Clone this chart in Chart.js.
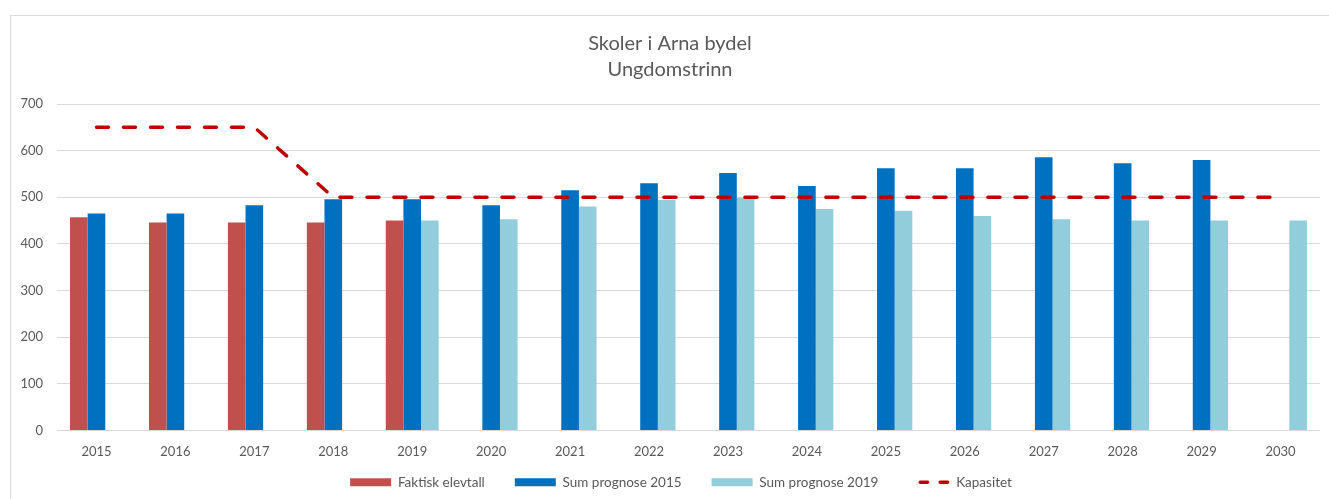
<!DOCTYPE html>
<html>
<head>
<meta charset="utf-8">
<script src="https://cdn.jsdelivr.net/npm/chart.js@4/dist/chart.umd.min.js"></script>
<style>
  body { margin: 0; background: #fff; }
  #wrap { position: relative; width: 1329px; height: 499px; overflow: hidden; }
  #frame { position: absolute; left: 10px; top: 15px; width: 1340px; height: 500px; border: 1px solid #d9d9d9; pointer-events: none; }
</style>
</head>
<body>
<div id="wrap">
  <canvas id="myChart" width="1329" height="499"></canvas>
  <div id="frame"></div>
</div>
<script>
// years on the x axis
var years = ["2015", "2016", "2017", "2018", "2019", "2020", "2021", "2022",
  "2023", "2024", "2025", "2026", "2027", "2028", "2029", "2030"];
// actual pupils
var faktisk = [457, 446, 446, 446, 450, null, null, null, null, null, null, null, null, null, null, null];
// forecast from 2015
var prognose2015 = [465, 465, 483, 496, 496, 483, 515, 530, 552, 524, 562, 562, 586, 573, 580, null];
// forecast from 2019
var prognose2019 = [null, null, null, null, 450, 453, 480, 494, 499, 475, 471, 460, 453, 450, 450, 450];
// capacity
var kapasitet = [650, 650, 650, 500, 500, 500, 500, 500, 500, 500, 500, 500, 500, 500, 500, 500];
var yTicks = [0, 100, 200, 300, 400, 500, 600, 700];

Chart.defaults.font.family = "Lato, 'Liberation Sans', sans-serif";
Chart.defaults.color = "#595959";

var defaultLabels = Chart.defaults.plugins.legend.labels.generateLabels;

// x axis is squeezed to fit the legend, so let its labels draw below it
var tidyLayout = {
  id: "tidyLayout",
  afterLayout: function (chart) {
    var x = chart.scales.x;
    x.bottom = x.top + 34;
    chart.legend.left += 11;
    chart.legend.right += 11;
  }
};

new Chart("myChart", {
  type: "bar",
  data: {
    labels: years,
    datasets: [
      { label: "Faktisk elevtall", data: faktisk, backgroundColor: "#C0504D", borderWidth: 0, pointStyle: "rect", order: 1 },
      { label: "Sum prognose 2015", data: prognose2015, backgroundColor: "#0070C0", borderWidth: 0, pointStyle: "rect", order: 1 },
      { label: "Sum prognose 2019", data: prognose2019, backgroundColor: "#92CDDC", borderWidth: 0, pointStyle: "rect", order: 1 },
      {
        type: "line", label: "Kapasitet", data: kapasitet,
        borderColor: "#C00000", backgroundColor: "#C00000",
        borderWidth: 3.5, borderDash: [12, 15], borderCapStyle: "round",
        pointRadius: 0, pointStyle: "line", fill: false, tension: 0, order: 0
      }
    ]
  },
  plugins: [tidyLayout],
  options: {
    responsive: false,
    animation: false,
    layout: { padding: { top: 31, right: 9, bottom: 0, left: 20 } },
    datasets: { bar: { categoryPercentage: 0.67, barPercentage: 1 } },
    plugins: {
      title: {
        display: true,
        text: ["Skoler i Arna bydel", "Ungdomstrinn"],
        color: "#595959",
        font: { size: 20, weight: "normal", lineHeight: 1.3 },
        padding: { top: 0, bottom: 21 }
      },
      legend: {
        position: "bottom",
        labels: {
          usePointStyle: true,
          pointStyleWidth: 41,
          boxHeight: 8,
          padding: 30,
          color: "#595959",
          font: { size: 13.5 },
          sort: function (a, b) { return a.datasetIndex - b.datasetIndex; },
          generateLabels: function (chart) {
            var items = defaultLabels(chart);
            items.forEach(function (it) {
              if (it.pointStyle === "line") {
                it.lineWidth = 3.5;
                it.lineCap = "round";
                it.lineDash = [7.5, 12.5];
                it.lineDashOffset = -11.75;
                it.strokeStyle = "#C00000";
              }
            });
            return items;
          }
        }
      },
      tooltip: { enabled: false }
    },
    scales: {
      x: {
        grid: { display: false, drawTicks: false },
        border: { display: false },
        ticks: { padding: 14, font: { size: 13 }, color: "#595959" },
        afterFit: function (s) { s.height = 15; }
      },
      y: {
        min: 0,
        max: 700,
        afterBuildTicks: function (s) { s.ticks = yTicks.map(function (v) { return { value: v }; }); },
        grid: { color: "#d9d9d9", drawTicks: false },
        border: { display: false },
        ticks: { padding: 14, font: { size: 13 }, color: "#595959" },
        afterFit: function (s) { s.width = 37; }
      }
    }
  }
});
</script>
</body>
</html>
